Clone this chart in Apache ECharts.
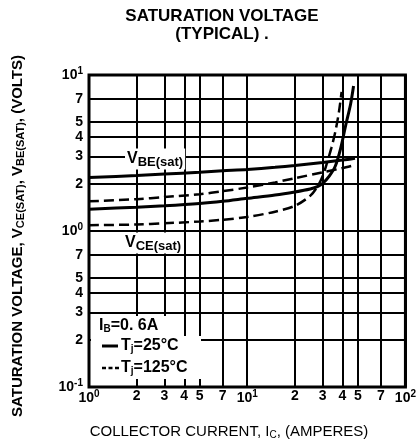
<!DOCTYPE html>
<html>
<head>
<meta charset="utf-8">
<script src="https://cdn.jsdelivr.net/npm/echarts@6/dist/echarts.min.js"></script>
<style>
html, body { margin: 0; padding: 0; background: #fff; }
#chart { width: 419px; height: 446px; }
</style>
</head>
<body>
<div id="chart"></div>
<script>
// tick values on both log axes
const xTicks = [1, 2, 3, 4, 5, 7, 10, 20, 30, 40, 50, 70, 100];
const yTicks = [0.1, 0.2, 0.3, 0.4, 0.5, 0.7, 1, 2, 3, 4, 5, 7, 10];

// collector current (A) and saturation voltage (V)
const vbe25I = [1, 2, 3, 5, 7, 10, 15, 20, 30, 40, 48];
const vbe25V = [2.2, 2.27, 2.32, 2.38, 2.43, 2.48, 2.56, 2.63, 2.75, 2.85, 2.93];
const vbe125I = [1, 2, 3, 5, 7, 10, 15, 20, 30, 40, 48];
const vbe125V = [1.55, 1.6, 1.65, 1.72, 1.8, 1.9, 2.05, 2.18, 2.38, 2.53, 2.65];
const vce25I = [1, 2, 3, 5, 7, 10, 15, 20, 25, 28, 30, 33, 36, 39, 42, 45, 47];
const vce25V = [1.38, 1.42, 1.45, 1.5, 1.55, 1.62, 1.7, 1.78, 1.86, 1.93, 2.02, 2.25, 2.6, 3.4, 4.8, 6.5, 8.5];
const vce125I = [1, 2, 3, 5, 7, 10, 15, 20, 25, 28, 30, 32, 34, 36, 38, 39.5];
const vce125V = [1.09, 1.1, 1.12, 1.15, 1.18, 1.23, 1.33, 1.45, 1.68, 1.95, 2.25, 2.75, 3.4, 4.3, 5.8, 7.8];

const chart = echarts.init(document.getElementById('chart'));
const FONT = '"Liberation Sans", Arial, sans-serif';

function pair(xs, ys) {
    return xs.map((x, i) => [x, ys[i]]);
}

// 1 -> 10^0, 2 -> 2 ...
function fmt(v) {
    const p = Math.round(Math.log10(v));
    if (Math.abs(v - Math.pow(10, p)) < 1e-9 * Math.pow(10, p)) {
        return '{b|10}{s|' + p + '}';
    }
    const e = Math.floor(Math.log10(v) + 1e-9);
    return '{b|' + Math.round(v / Math.pow(10, e)) + '}';
}

const tickRich = {
    b: { fontSize: 14, fontWeight: 'bold', color: '#000', fontFamily: FONT },
    s: { fontSize: 10, fontWeight: 'bold', color: '#000', fontFamily: FONT, padding: [0, 0, 8, 0] }
};
const subRich = function (size, sub) {
    return {
        m: { fontSize: size, fontWeight: 'bold', fill: '#000', fontFamily: FONT },
        s: { fontSize: sub, fontWeight: 'bold', fill: '#000', fontFamily: FONT, padding: [6, 0, 0, 0] }
    };
};

const solid = { color: '#000', width: 3, type: 'solid' };
const dashed = { color: '#000', width: 2.5, type: [10, 5] };

function curve(name, xs, ys, style) {
    return {
        name: name,
        type: 'line',
        data: pair(xs, ys),
        showSymbol: false,
        smooth: 0.3,
        lineStyle: style,
        z: 3
    };
}

const option = {
    animation: false,
    backgroundColor: '#fff',
    grid: {
        left: 89, right: 12, top: 75, bottom: 59,
        show: true,
        borderColor: '#000',
        borderWidth: 3
    },
    xAxis: {
        type: 'log',
        logBase: 10,
        min: 1,
        max: 100,
        axisLine: { show: false },
        axisTick: { show: false, customValues: xTicks },
        axisLabel: { customValues: xTicks, formatter: fmt, rich: tickRich, margin: 2 },
        splitLine: { show: true, lineStyle: { color: '#000', width: 2 } }
    },
    yAxis: {
        type: 'log',
        logBase: 10,
        min: 0.1,
        max: 10,
        axisLine: { show: false },
        axisTick: { show: false, customValues: yTicks },
        axisLabel: { customValues: yTicks, formatter: fmt, rich: tickRich, margin: 6 },
        splitLine: { show: true, lineStyle: { color: '#000', width: 2 } }
    },
    series: [
        curve('VBE 25', vbe25I, vbe25V, solid),
        curve('VBE 125', vbe125I, vbe125V, dashed),
        curve('VCE 25', vce25I, vce25V, solid),
        curve('VCE 125', vce125I, vce125V, dashed)
    ],
    graphic: [
        // title
        { type: 'text', x: 222, y: 16, style: { text: 'SATURATION VOLTAGE', font: 'bold 17px ' + FONT, fill: '#000', align: 'center', verticalAlign: 'middle' } },
        { type: 'text', x: 222, y: 34, style: { text: '(TYPICAL) .', font: 'bold 17px ' + FONT, fill: '#000', align: 'center', verticalAlign: 'middle' } },
        // axis titles
        { type: 'text', x: 229, y: 432, style: { text: 'COLLECTOR CURRENT, I{s|C}, (AMPERES)', font: '15px ' + FONT, fill: '#000', align: 'center', verticalAlign: 'middle',
            rich: { s: { fontSize: 10, fill: '#000', fontFamily: FONT, padding: [6, 0, 0, 0] } } } },
        { type: 'text', x: 18, y: 236, rotation: Math.PI / 2, style: { text: 'SATURATION VOLTAGE, V{s|CE(SAT)}, V{s|BE(SAT)}, (VOLTS)', font: 'bold 15px ' + FONT, fill: '#000', align: 'center', verticalAlign: 'middle',
            rich: { s: { fontSize: 11, fontWeight: 'bold', fill: '#000', fontFamily: FONT, padding: [6, 0, 0, 0] } } } },
        // curve labels
        { type: 'text', x: 125, y: 159, z: 100, style: { text: '{m|V}{s|BE(sat)}', rich: subRich(16, 13), backgroundColor: '#fff', padding: [1, 2, 1, 2], verticalAlign: 'middle' } },
        { type: 'text', x: 123, y: 243, z: 100, style: { text: '{m|V}{s|CE(sat)}', rich: subRich(16, 13), backgroundColor: '#fff', padding: [1, 2, 1, 2], verticalAlign: 'middle' } },
        // legend box
        { type: 'rect', z: 100, shape: { x: 91, y: 316, width: 82, height: 22 }, style: { fill: '#fff' } },
        { type: 'rect', z: 100, shape: { x: 91, y: 336, width: 110, height: 43 }, style: { fill: '#fff' } },
        { type: 'text', x: 99, y: 326, z: 101, style: { text: '{m|I}{s|B}{m|=0. 6A}', rich: subRich(16, 10), verticalAlign: 'middle' } },
        { type: 'line', z: 101, shape: { x1: 102, y1: 346, x2: 118, y2: 346 }, style: { stroke: '#000', lineWidth: 3 } },
        { type: 'text', x: 121, y: 346, z: 101, style: { text: '{m|T}{s|j}{m|=25°C}', rich: subRich(16, 10), verticalAlign: 'middle' } },
        { type: 'line', z: 101, shape: { x1: 102, y1: 368, x2: 119, y2: 368 }, style: { stroke: '#000', lineWidth: 2.5, lineDash: [4, 2.5] } },
        { type: 'text', x: 121, y: 368, z: 101, style: { text: '{m|T}{s|j}{m|=125°C}', rich: subRich(16, 10), verticalAlign: 'middle' } }
    ]
};

chart.setOption(option);
</script>
</body>
</html>
